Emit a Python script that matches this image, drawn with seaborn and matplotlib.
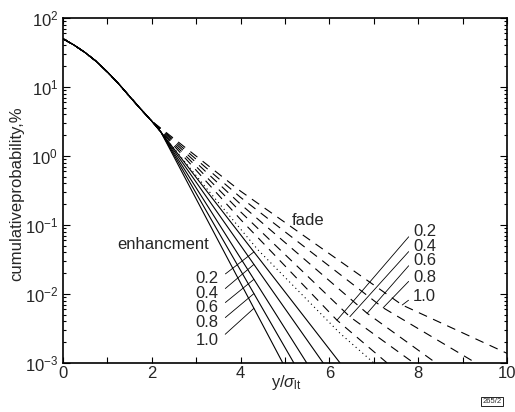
import numpy as np
import pandas as pd
import matplotlib
matplotlib.use("Agg")
import matplotlib.pyplot as plt
import seaborn as sns
from matplotlib.ticker import LogLocator, MultipleLocator, NullFormatter

sns.set_style("ticks", {"xtick.direction": "in", "ytick.direction": "in"})
plt.rcParams["font.family"] = ["Liberation Sans", "DejaVu Sans"]
plt.rcParams["mathtext.fontset"] = "custom"
plt.rcParams["mathtext.rm"] = "Liberation Sans"
plt.rcParams["mathtext.it"] = "Liberation Sans:italic"
plt.rcParams["mathtext.sf"] = "Liberation Sans"

# common part of all curves: x = y/sigma_lt, cumulative probability in %
head_x = [0.0, 0.25, 0.5, 0.75, 1.0, 1.25, 1.5, 1.75, 2.0]
head_p = [50.0, 40.5, 31.5, 23.5, 16.5, 11.2, 7.3, 4.8, 3.2]

# reference curve (dotted)
ref_x = [3.2, 4.39, 6.24, 7.0]
ref_p = [0.36, 0.0437, 0.00269, 0.001]

# enhancement curves (solid)
enh_levels = ["0.2", "0.4", "0.6", "0.8", "1.0"]
enh_x = [[2.2, 6.24], [2.2, 5.86], [2.2, 5.49], [2.2, 5.20], [2.2, 4.95]]
enh_p = [[2.25, 0.001], [2.25, 0.001], [2.25, 0.001], [2.25, 0.001], [2.25, 0.001]]

# fade curves (dashed)
fade_levels = ["0.2", "0.4", "0.6", "0.8", "1.0"]
fade_x = [[4.0, 6.17, 7.3], [4.0, 6.46, 7.9], [4.0, 6.85, 8.4],
          [4.0, 7.21, 9.3], [4.0, 7.64, 10.0]]
fade_p = [[0.120, 0.00417, 0.001], [0.155, 0.00468, 0.001], [0.200, 0.00525, 0.001],
          [0.251, 0.00631, 0.001], [0.309, 0.00692, 0.00138]]

# label positions and leader targets
enh_label_x = 3.51
enh_label_p = [0.0165, 0.0100, 0.0063, 0.0038, 0.00215]
enh_leader_x = [4.3, 4.3, 4.3, 4.3, 4.3]
fade_label_x = 7.88
fade_label_p = [0.0793, 0.0480, 0.0301, 0.0176, 0.00906]
fade_leader_x = [6.17, 6.46, 6.85, 7.21, 7.64]


def curve(tail_x, tail_p):
    return pd.DataFrame({"x": head_x + list(tail_x), "p": head_p + list(tail_p)})


def on_curve(df, x):
    return 10 ** np.interp(x, df["x"], np.log10(df["p"]))


fig, ax = plt.subplots(figsize=(5.15, 4.12), dpi=100)
fig.subplots_adjust(left=0.1223, right=0.9845, bottom=0.119, top=0.9563)
ax.set_yscale("log")

lw = 0.8
ref = curve(ref_x, ref_p)
sns.lineplot(data=ref, x="x", y="p", ax=ax, color="k", lw=lw, linestyle=(0, (1, 3)))

for lab, xs, ps, lx, ly in zip(enh_levels, enh_x, enh_p, enh_leader_x, enh_label_p):
    df = curve(xs, ps)
    sns.lineplot(data=df, x="x", y="p", ax=ax, color="k", lw=lw)
    ax.annotate(lab, xy=(lx, on_curve(df, lx)), xytext=(enh_label_x, ly),
                ha="right", va="center", fontsize=12,
                arrowprops=dict(arrowstyle="-", lw=0.6, color="k",
                                shrinkA=3, shrinkB=0, relpos=(1, 0.5)))

for lab, xs, ps, lx, ly in zip(fade_levels, fade_x, fade_p, fade_leader_x, fade_label_p):
    df = curve(xs, ps)
    sns.lineplot(data=df, x="x", y="p", ax=ax, color="k", lw=lw, linestyle=(0, (8, 6)))
    ax.annotate(lab, xy=(lx, on_curve(df, lx)), xytext=(fade_label_x, ly),
                ha="left", va="center", fontsize=12,
                arrowprops=dict(arrowstyle="-", lw=0.6, color="k",
                                shrinkA=1, shrinkB=0, relpos=(0, 0.5)))

ax.text(2.25, 0.053, "enhancment", ha="center", va="center", fontsize=12)
ax.text(5.52, 0.115, "fade", ha="center", va="center", fontsize=12)

ax.set_xlim(0, 10)
ax.set_ylim(1e-3, 1e2)
ax.xaxis.set_major_locator(MultipleLocator(2))
ax.xaxis.set_minor_locator(MultipleLocator(1))
ax.yaxis.set_major_locator(LogLocator(base=10, numticks=10))
ax.yaxis.set_minor_locator(LogLocator(base=10, subs=np.arange(2, 10), numticks=20))
ax.yaxis.set_minor_formatter(NullFormatter())
ax.tick_params(axis="both", which="both", top=True, right=True, direction="in",
               labelsize=12, width=0.8, color="k")
ax.tick_params(axis="x", which="both", length=4, pad=2)
ax.tick_params(axis="y", which="major", length=5)
ax.tick_params(axis="y", which="minor", length=2.5)
for s in ax.spines.values():
    s.set_linewidth(1.2)
    s.set_color("k")

ax.set_xlabel(r"y/$\sigma_{\mathrm{lt}}$", fontsize=12)
ax.set_ylabel("cumulativeprobability,%", fontsize=12)
ax.xaxis.set_label_coords(0.502, -0.03)
ax.yaxis.set_label_coords(-0.088, 0.49)

fig.text(0.955, 0.017, "265/2", fontsize=5.5, ha="center", va="bottom",
         bbox=dict(boxstyle="square,pad=0.15", fc="white", ec="k", lw=0.6))

fig.savefig("out.png", dpi=100)
